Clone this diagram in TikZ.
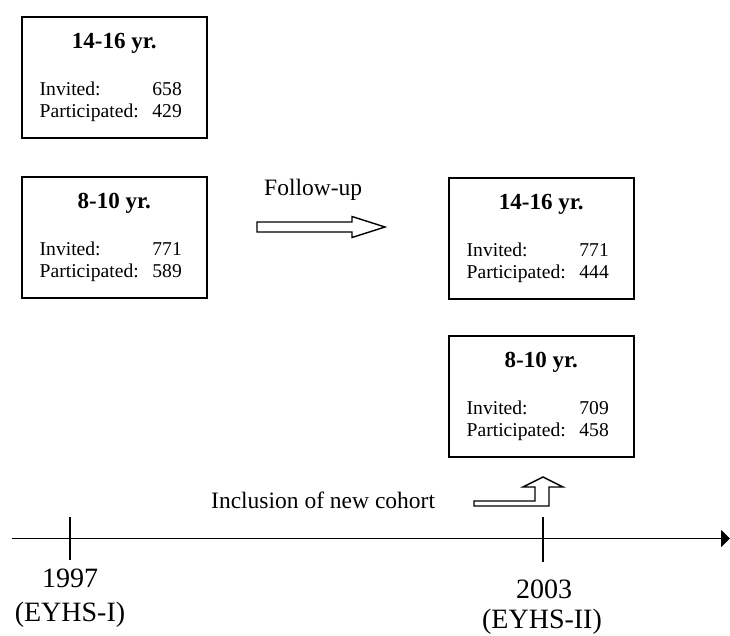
\documentclass[tikz,border=0pt]{standalone}
\usepackage{fontspec}
\setmainfont{Liberation Serif}
\usetikzlibrary{arrows.meta,calc}
\newcommand\cohortbox[6]{%
  \node[cohort] (#1) at (#2,#3) {};
  \node[ttl] (#1t) at ($(#1.north)+(0,32.5)$) {#4};
  \node[lbl] (#1i) at ($(#1.north west)+(18.5,79.5)$) {Invited:};
  \node[num] (#1in) at ($(#1.north west)+(161,79.5)$) {#5};
  \node[lbl] (#1p) at ($(#1.north west)+(18.5,101.5)$) {Participated:};
  \node[num] (#1pn) at ($(#1.north west)+(161,101.5)$) {#6};
}
\begin{document}
\begin{tikzpicture}[x=1pt,y=-1pt,
  cohort/.style={draw,line width=1.6pt,minimum width=185pt,minimum height=121pt,inner sep=0pt,anchor=north west},
  ttl/.style={anchor=base,inner sep=0pt,font=\fontsize{23}{26}\selectfont\bfseries},
  lbl/.style={anchor=base west,inner sep=0pt,font=\fontsize{19.6}{22}\selectfont},
  num/.style={anchor=base east,inner sep=0pt,font=\fontsize{19.6}{22}\selectfont},
  caption/.style={anchor=base west,inner sep=0pt,font=\fontsize{23.5}{26}\selectfont},
  year/.style={anchor=base,inner sep=0pt,font=\fontsize{28}{32}\selectfont},
  blockarrow/.style={draw,fill=white,line width=1.4pt,line join=miter},
  tick/.style={line width=1.4pt}]
\useasboundingbox (0,0) rectangle (730,635);

\cohortbox{a}{21}{16}{14-16 yr.}{658}{429}
\cohortbox{b}{21}{176}{8-10 yr.}{771}{589}
\cohortbox{c}{448}{177}{14-16 yr.}{771}{444}
\cohortbox{d}{448}{335}{8-10 yr.}{709}{458}

% follow-up
\node[caption] (fu) at (264,195) {Follow-up};
\draw[blockarrow] (257,222) -- (352,222) -- (352,216.5) -- (385,227) -- (352,237.5) -- (352,232) -- (257,232) -- cycle;

% inclusion
\node[caption] (inc) at (211,508) {Inclusion of new cohort};
\draw[blockarrow] (474,501) -- (535,501) -- (535,487) -- (523,487) -- (543,477) -- (563,487) -- (549,487) -- (549,506) -- (474,506) -- cycle;

% timeline
\coordinate (t0) at (12,538.5);
\coordinate (t1) at (730,538.5);
\draw[line width=1.8pt,-{Triangle[length=9pt,width=17pt]}] (t0) -- (t1);
\coordinate (y97) at (70,538.5);
\coordinate (y03) at (543,538.5);
\draw[tick] ($(y97)+(0,-21.5)$) -- ($(y97)+(0,21.5)$);
\draw[tick] ($(y03)+(0,-21.5)$) -- ($(y03)+(0,23.5)$);
\node[year] (l97) at (70,587) {1997};
\node[year] (e97) at (70,621) {(EYHS-I)};
\node[year] (l03) at (544,598) {2003};
\node[year] (e03) at (542,628.5) {(EYHS-II)};
\end{tikzpicture}
\end{document}
